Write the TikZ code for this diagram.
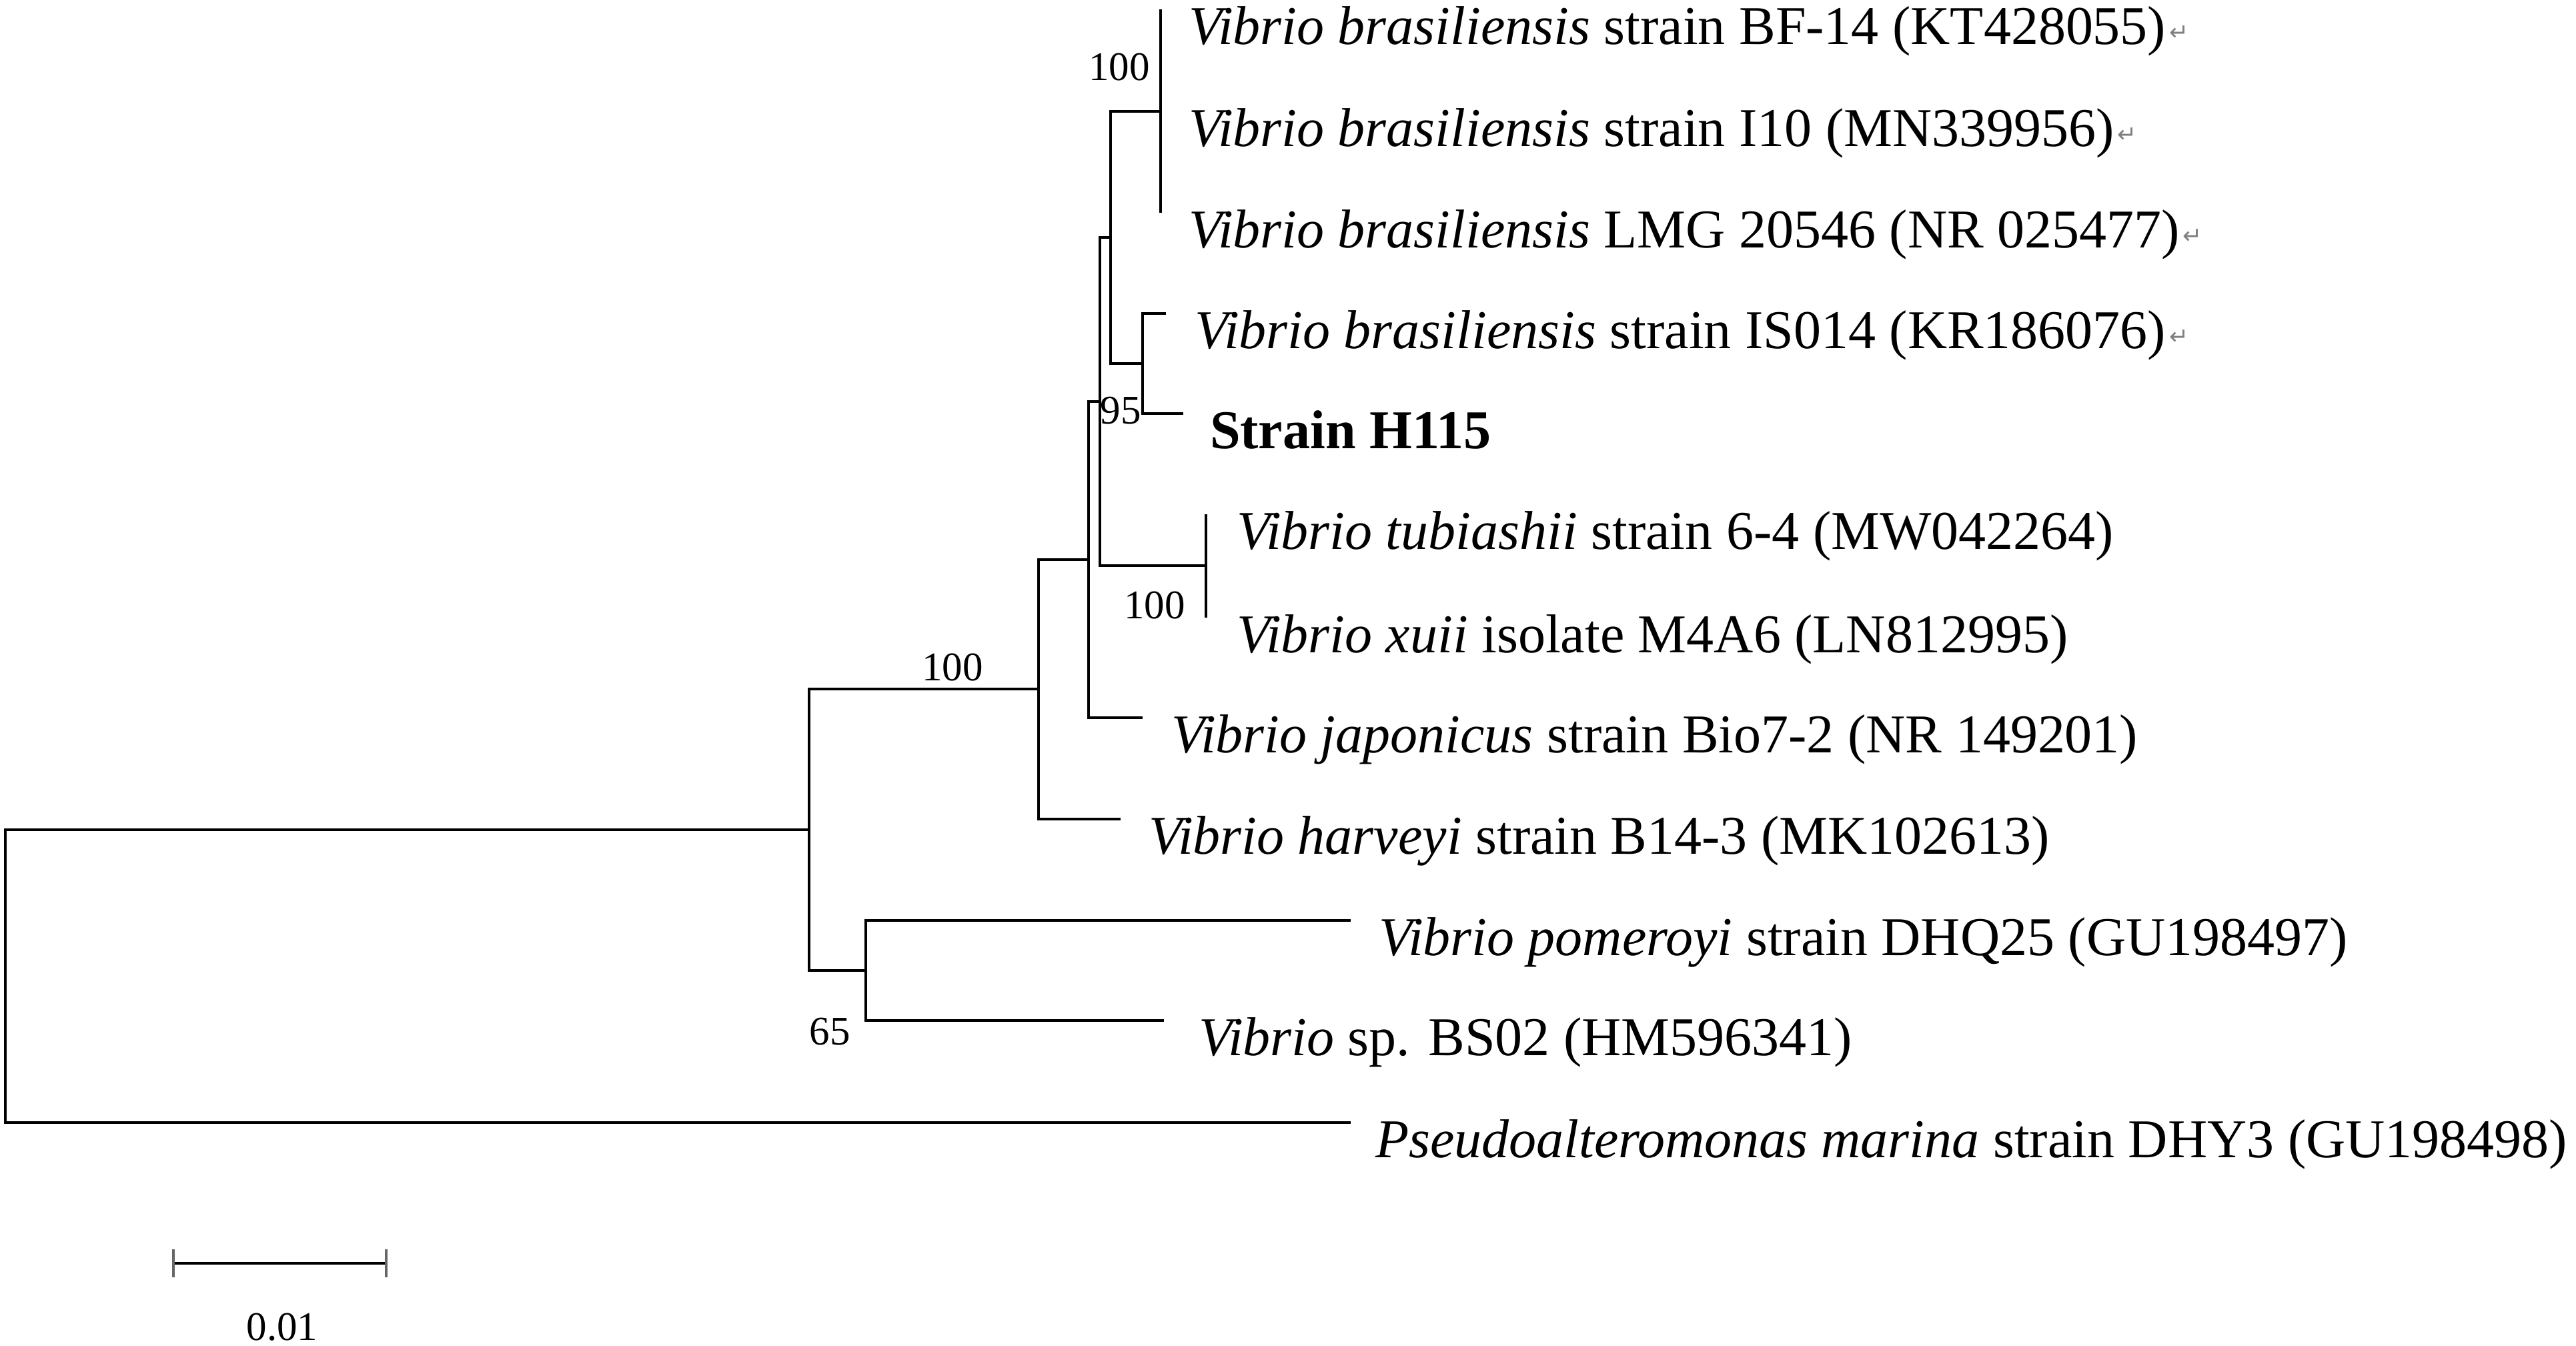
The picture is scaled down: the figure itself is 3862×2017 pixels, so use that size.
\documentclass[tikz,border=0pt]{standalone}
\usepackage{fontspec}
\setmainfont{Liberation Serif}
\newfontfamily\symfont{DejaVu Sans}
\newcommand{\retmark}{\kern0.5pt{\symfont\fontsize{3.5}{3.5}\selectfont\color{gray}\raisebox{0.6pt}{↵}}}
\begin{document}
\begin{tikzpicture}[x=0.1pt,y=-0.1pt,
  br/.style={line width=0.4pt, line join=miter},
  lab/.style={anchor=base west, inner sep=0pt, font=\fontsize{8.2}{10}\selectfont},
  boot/.style={inner sep=0pt, font=\fontsize{6.1}{7}\selectfont},
  tick/.style={line width=0.4pt, draw=black!60}]
\useasboundingbox (0,0) rectangle (3862,2017);
% internal nodes
\coordinate (root) at (8,1463);
\coordinate (nH) at (1213,1244);
\coordinate (nG) at (1557,1033);
\coordinate (nE) at (1632,839);
\coordinate (nD) at (1649,602);
\coordinate (nB) at (1665,356);
\coordinate (nA) at (1740,167);
\coordinate (nC) at (1713,545);
\coordinate (nF) at (1808,848);
\coordinate (nI) at (1298,1455);
% leaves
\coordinate (l1) at (1740,14);
\coordinate (l2) at (1740,167);
\coordinate (l3) at (1740,319);
\coordinate (l4) at (1748,470);
\coordinate (l5) at (1774,620);
\coordinate (l6) at (1808,771);
\coordinate (l7) at (1808,926);
\coordinate (l8) at (1713,1076);
\coordinate (l9) at (1680,1228);
\coordinate (l10) at (2025,1380);
\coordinate (l11) at (1745,1530);
\coordinate (l12) at (2025,1683);
% branches
\draw[br] (root) |- (nH);
\draw[br] (root) |- (l12);
\draw[br] (nH) |- (nG);
\draw[br] (nH) |- (nI);
\draw[br] (nG) |- (nE);
\draw[br] (nG) |- (l9);
\draw[br] (nE) |- (nD);
\draw[br] (nE) |- (l8);
\draw[br] (nD) |- (nB);
\draw[br] (nD) |- (nF);
\draw[br] (nB) |- (nA);
\draw[br] (nB) |- (nC);
\draw[br] (nA) -- (l1);
\draw[br] (nA) -- (l3);
\draw[br] (nC) |- (l4);
\draw[br] (nC) |- (l5);
\draw[br] (nF) -- (l6);
\draw[br] (nF) -- (l7);
\draw[br] (nI) |- (l10);
\draw[br] (nI) |- (l11);
% leaf labels
\node[lab] (t1) at (1780,66) {\textit{Vibrio brasiliensis} strain BF-14 (KT428055)\retmark};
\node[lab] (t2) at (1780,219) {\textit{Vibrio brasiliensis} strain I10 (MN339956)\retmark};
\node[lab] (t3) at (1780,371) {\textit{Vibrio brasiliensis} LMG 20546 (NR 025477)\retmark};
\node[lab] (t4) at (1789,522) {\textit{Vibrio brasiliensis} strain IS014 (KR186076)\retmark};
\node[lab] (t5) at (1812,672) {\textbf{Strain H115}};
\node[lab] (t6) at (1852,823) {\textit{Vibrio tubiashii} strain 6-4 (MW042264)};
\node[lab] (t7) at (1852,978) {\textit{Vibrio xuii} isolate M4A6 (LN812995)};
\node[lab] (t8) at (1754,1128) {\textit{Vibrio japonicus} strain Bio7-2 (NR 149201)};
\node[lab] (t9) at (1720,1280) {\textit{Vibrio harveyi} strain B14-3 (MK102613)};
\node[lab] (t10) at (2065,1432) {\textit{Vibrio pomeroyi} strain DHQ25 (GU198497)};
\node[lab] (t11) at (1795,1582) {\textit{Vibrio} sp. BS02 (HM596341)};
\node[lab] (t12) at (2060,1735) {\textit{Pseudoalteromonas marina} strain DHY3 (GU198498)};
% bootstrap values
\node[boot] (b1) at (1678,100) {100};
\node[boot] (b2) at (1680,616) {95};
\node[boot] (b3) at (1731,907) {100};
\node[boot] (b4) at (1428,1000) {100};
\node[boot] (b5) at (1244,1547) {65};
% scale bar
\coordinate (sbL) at (260,1894);
\coordinate (sbR) at (579,1894);
\draw[br] (sbL) -- (sbR);
\draw[tick] ([yshift=-2.1pt]sbL) -- ([yshift=2.1pt]sbL);
\draw[tick] ([yshift=-2.1pt]sbR) -- ([yshift=2.1pt]sbR);
\node[boot] (sbt) at (423,1990) {0.01};
\end{tikzpicture}
\end{document}
